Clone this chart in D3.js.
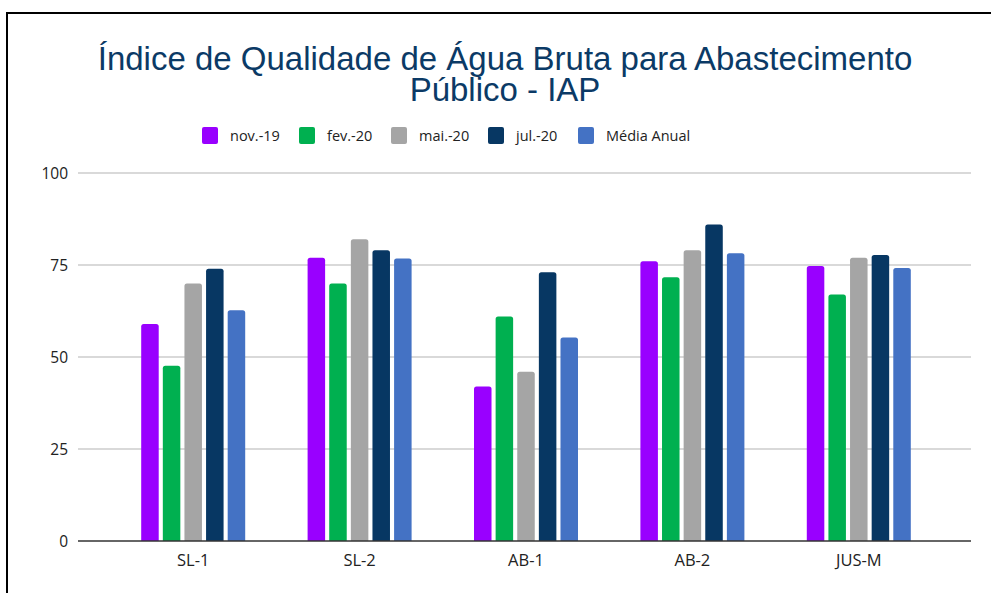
<!DOCTYPE html>
<html>
<head>
<meta charset="utf-8">
<script src="https://cdn.jsdelivr.net/npm/d3@7"></script>
<style>
  body { margin: 0; background: #fff; }
  svg { display: block; }
</style>
</head>
<body>
<svg id="chart"></svg>
<script>
const width = 991;
const height = 593;

const categories = ["SL-1", "SL-2", "AB-1", "AB-2", "JUS-M"];
const seriesNames = ["nov.-19", "fev.-20", "mai.-20", "jul.-20", "Média Anual"];
const seriesColors = ["#9900ff", "#00b050", "#a5a5a5", "#073763", "#4472c4"];
const nov19 = [59, 77, 42, 76, 74.7];
const fev20 = [47.6, 70, 61, 71.7, 67];
const mai20 = [70, 82, 46, 79, 77];
const jul20 = [74, 79, 73, 86, 77.7];
const mediaAnual = [62.7, 76.8, 55.3, 78.2, 74.2];
const yTicks = [0, 25, 50, 75, 100];

const seriesValues = [nov19, fev20, mai20, jul20, mediaAnual];

const svg = d3.select("#chart").attr("width", width).attr("height", height);

// frame
svg.append("path")
    .attr("d", `M7,${height + 5} L7,13 L${width + 5},13`)
    .attr("fill", "none").attr("stroke", "#000").attr("stroke-width", 2);

// title
const title = svg.append("text")
    .attr("text-anchor", "middle")
    .attr("fill", "#0b3a66")
    .style("font-family", "'Liberation Sans', Arial, sans-serif")
    .style("font-size", "33px");
title.append("tspan").attr("x", 505).attr("y", 70).text("Índice de Qualidade de Água Bruta para Abastecimento");
title.append("tspan").attr("x", 505).attr("y", 101).text("Público - IAP");

// legend
const legendX = [202, 299, 391, 488, 578];
const legend = svg.append("g");
legend.selectAll("rect").data(seriesNames).enter().append("rect")
    .attr("x", (d, i) => legendX[i]).attr("y", 127)
    .attr("width", 16).attr("height", 17).attr("rx", 2)
    .attr("fill", (d, i) => seriesColors[i]);
legend.selectAll("text").data(seriesNames).enter().append("text")
    .attr("x", (d, i) => legendX[i] + 28).attr("y", 141)
    .text(d => d)
    .style("font-family", "'Open Sans', sans-serif")
    .style("font-size", "14.5px")
    .attr("fill", "#222");

// scales
const y = d3.scaleLinear().domain([0, 100]).range([541, 173]);
const x = d3.scaleBand().domain(categories).range([110, 942]);
const xInner = d3.scaleBand().domain(seriesNames).range([0, 104]).paddingInner(0.19);

// grid
const grid = svg.append("g");
grid.selectAll("line").data(yTicks.filter(d => d > 0)).enter().append("line")
    .attr("x1", 78).attr("x2", 971)
    .attr("y1", d => y(d)).attr("y2", d => y(d))
    .attr("stroke", "#cccccc").attr("stroke-width", 1.5);

grid.selectAll("text").data(yTicks).enter().append("text")
    .attr("x", 68).attr("y", d => y(d) + 5.5)
    .attr("text-anchor", "end")
    .text(d => d)
    .style("font-family", "'Open Sans', sans-serif")
    .style("font-size", "15.5px")
    .attr("fill", "#222");

// bars
const groups = svg.selectAll(".grp").data(categories).enter().append("g")
    .attr("class", "grp")
    .attr("transform", d => `translate(${x(d) + (x.bandwidth() - 104) / 2},0)`);

groups.selectAll("path").data((c, ci) => seriesNames.map((s, si) => ({ s, si, v: seriesValues[si][ci] })))
    .enter().append("path")
    .attr("d", d => {
        const x0 = xInner(d.s), w = xInner.bandwidth(), y0 = y(d.v), yb = y(0), r = 2.5;
        return `M${x0},${yb} L${x0},${y0 + r} Q${x0},${y0} ${x0 + r},${y0} L${x0 + w - r},${y0} Q${x0 + w},${y0} ${x0 + w},${y0 + r} L${x0 + w},${yb} Z`;
    })
    .attr("fill", d => seriesColors[d.si]);

// x axis
svg.append("line")
    .attr("x1", 78).attr("x2", 971).attr("y1", y(0)).attr("y2", y(0))
    .attr("stroke", "#333").attr("stroke-width", 1.5);

svg.selectAll(".xlab").data(categories).enter().append("text")
    .attr("class", "xlab")
    .attr("x", d => x(d) + x.bandwidth() / 2)
    .attr("y", 566)
    .attr("text-anchor", "middle")
    .text(d => d)
    .style("font-family", "'Open Sans', sans-serif")
    .style("font-size", "16.5px")
    .attr("fill", "#222");
</script>
</body>
</html>
